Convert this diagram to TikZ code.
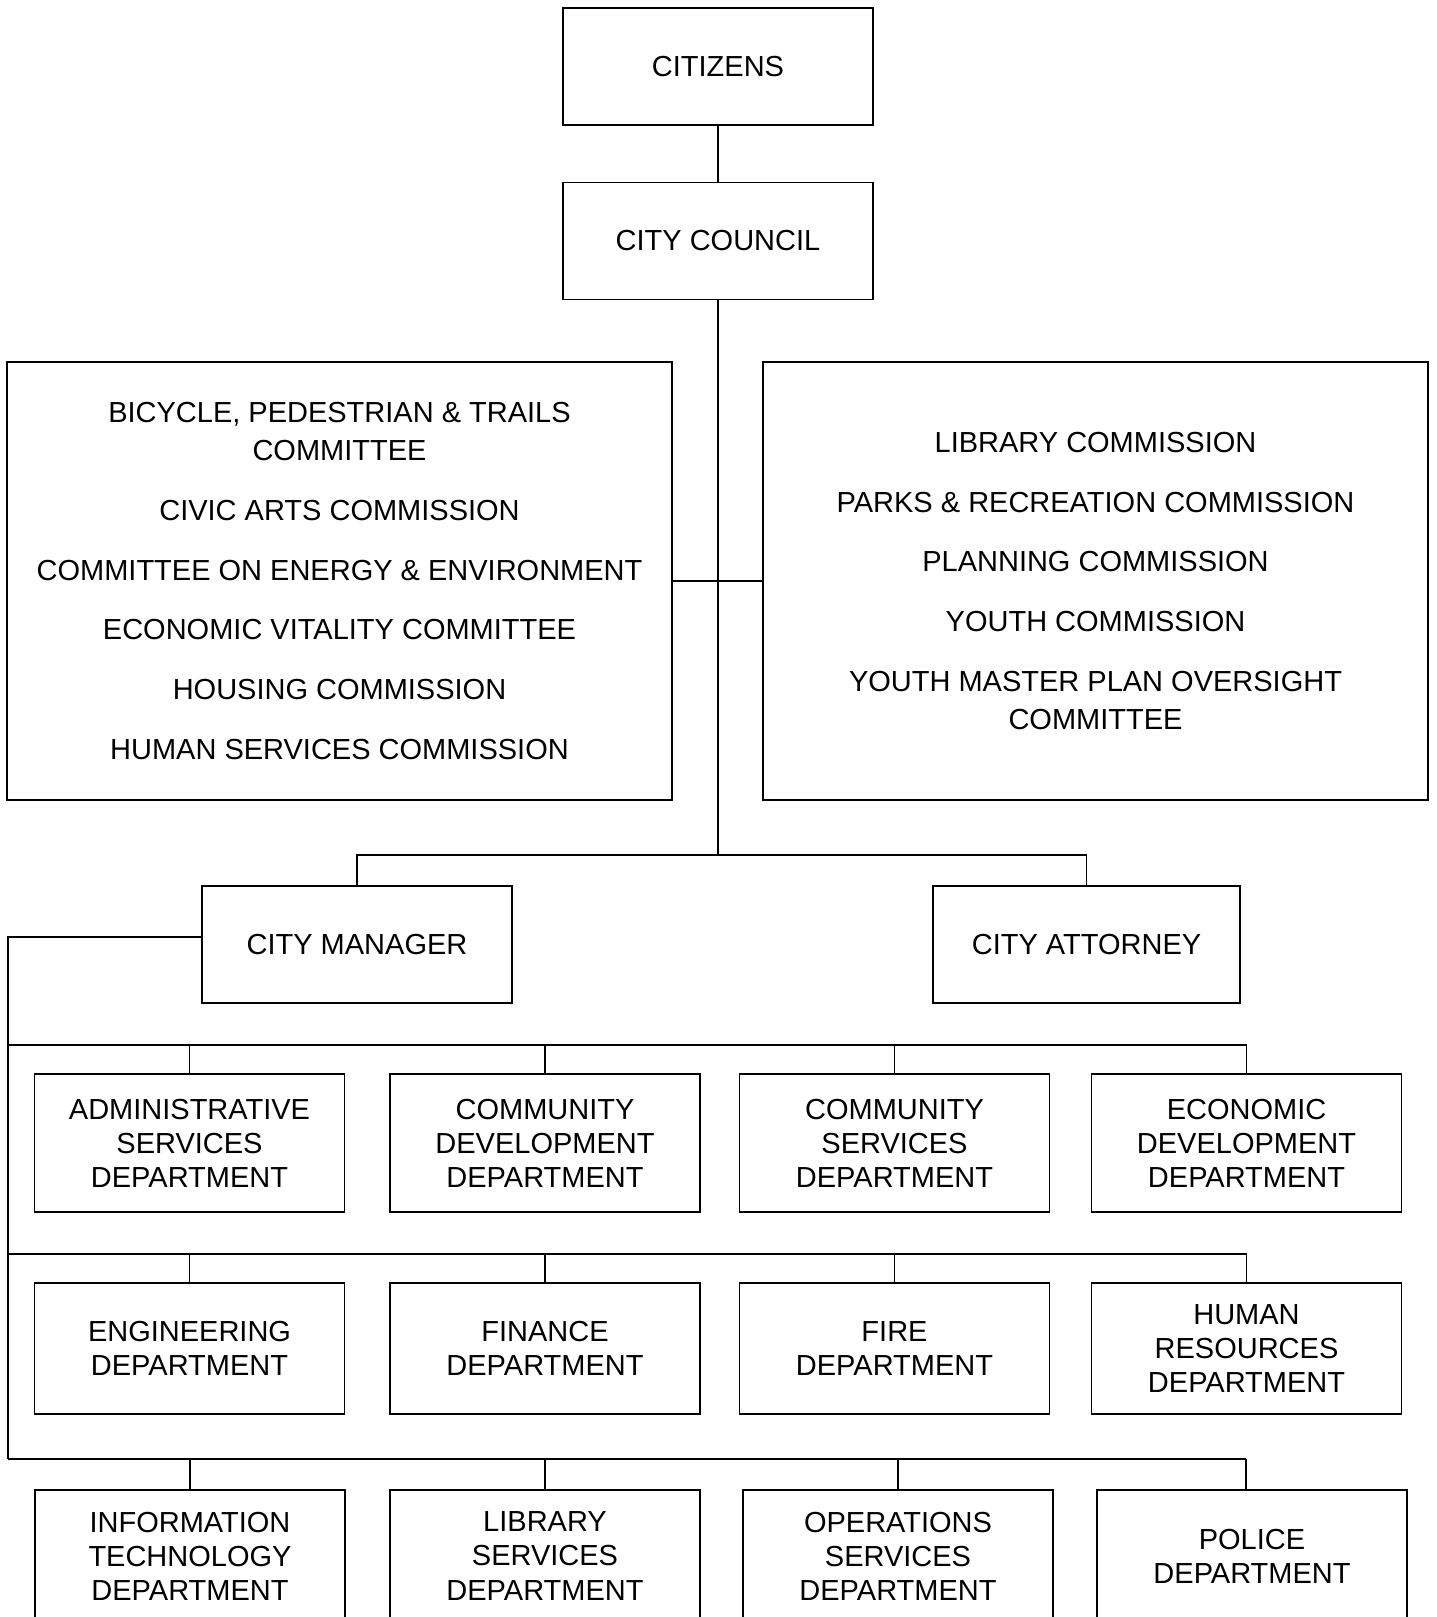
\documentclass[tikz,border=0pt]{standalone}
\usepackage{fontspec}
\setmainfont{Liberation Sans}
\usetikzlibrary{calc,positioning}

\begin{document}
\begin{tikzpicture}[line width=1pt,
  box/.style={draw,align=center,font=\fontsize{16.5}{19.4}\selectfont},
  top/.style={box,minimum width=6.2cm,minimum height=2.34cm},
  comm/.style={box,minimum width=13.3cm,minimum height=8.76cm,font=\fontsize{16.5}{21.7}\selectfont},
  dept/.style={box,minimum width=6.2cm,minimum height=2.64cm}]
\useasboundingbox (0,0) rectangle (28.72,-32.34);
\clip (0,0) rectangle (28.72,-32.34);
\node[top] (citizens) at (14.36,-1.33) {CITIZENS};
\node[top] (council) at (14.36,-4.82) {CITY COUNCIL};
\node[comm] (boards) at (6.79,-11.62) {BICYCLE, PEDESTRIAN \& TRAILS\\COMMITTEE\\[12.3pt]
  CIVIC ARTS COMMISSION\\[12.3pt] COMMITTEE ON ENERGY \& ENVIRONMENT\\[12.3pt]
  ECONOMIC VITALITY COMMITTEE\\[12.3pt] HOUSING COMMISSION\\[12.3pt] HUMAN SERVICES COMMISSION};
\node[comm] (commissions) at (21.91,-11.62) {LIBRARY COMMISSION\\[12.3pt]
  PARKS \& RECREATION COMMISSION\\[12.3pt] PLANNING COMMISSION\\[12.3pt]
  YOUTH COMMISSION\\[12.3pt] YOUTH MASTER PLAN OVERSIGHT\\COMMITTEE};
\node[top] (manager) at (7.14,-18.89) {CITY MANAGER};
\node[top,minimum width=6.14cm] (attorney) at (21.73,-18.89) {CITY ATTORNEY};
\coordinate (split) at (14.36,-17.10);
\coordinate (bus1) at (0.16,-20.90);
\coordinate (bus2) at (0.16,-25.08);
\coordinate (bus3) at (0.16,-29.18);
\draw (citizens) -- (council);
\draw (council.south) -- (split);
\draw (boards.east) -- (commissions.west);
\draw (manager.north) |- (split) -| (attorney.north);
\draw ([yshift=0.15cm]manager.west) -| (bus3);
\node[dept,minimum height=2.76cm] (ad) at (3.79,-22.86) {ADMINISTRATIVE\\SERVICES\\DEPARTMENT};
\node[dept,minimum height=2.76cm] (cd) at (10.90,-22.86) {COMMUNITY\\DEVELOPMENT\\DEPARTMENT};
\node[dept,minimum height=2.76cm] (cs) at (17.89,-22.86) {COMMUNITY\\SERVICES\\DEPARTMENT};
\node[dept,minimum height=2.76cm] (ed) at (24.93,-22.86) {ECONOMIC\\DEVELOPMENT\\DEPARTMENT};
\node[dept,minimum height=2.62cm] (eng) at (3.79,-26.97) {ENGINEERING\\DEPARTMENT};
\node[dept,minimum height=2.62cm] (fin) at (10.90,-26.97) {FINANCE\\DEPARTMENT};
\node[dept,minimum height=2.62cm] (fire) at (17.89,-26.97) {FIRE\\DEPARTMENT};
\node[dept,minimum height=2.62cm] (hr) at (24.93,-26.97) {HUMAN\\RESOURCES\\DEPARTMENT};
\node[dept] (it) at (3.80,-31.12) {INFORMATION\\TECHNOLOGY\\DEPARTMENT};
\node[dept] (lib) at (10.90,-31.12) {LIBRARY\\SERVICES\\DEPARTMENT};
\node[dept] (ops) at (17.96,-31.12) {OPERATIONS\\SERVICES\\DEPARTMENT};
\node[dept] (police) at (25.04,-31.12) {POLICE\\DEPARTMENT};
\coordinate (policetop) at ([xshift=-0.12cm]police.north);
\draw (bus1) -- (ed.north |- bus1);
\draw (bus2) -- (hr.north |- bus2);
\draw (bus3) -- (policetop |- bus3);
\foreach \n/\b in {ad/bus1,cd/bus1,cs/bus1,ed/bus1,eng/bus2,fin/bus2,fire/bus2,hr/bus2,it/bus3,lib/bus3,ops/bus3}
  \draw (\n.north) -- (\n.north |- \b);
\draw (policetop) -- (policetop |- bus3);
\end{tikzpicture}
\end{document}
